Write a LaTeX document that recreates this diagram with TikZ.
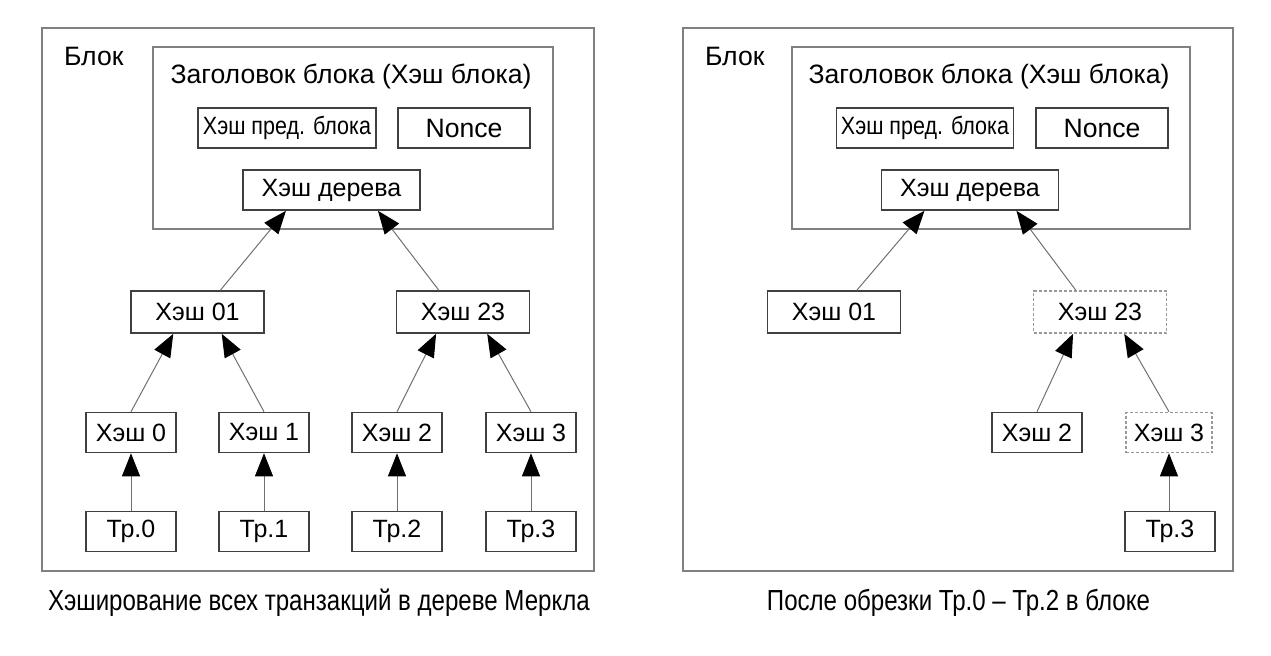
\documentclass[tikz,border=0pt]{standalone}
\usepackage{fontspec}
\setmainfont{Liberation Sans}
\newfontfamily\narrowfont[FakeStretch=0.86]{Liberation Sans}
\newfontfamily\captionfont[FakeStretch=0.83]{Liberation Sans}
\usetikzlibrary{arrows.meta,calc}
\definecolor{boxline}{HTML}{404040}
\definecolor{frameline}{HTML}{808080}
\definecolor{linkline}{HTML}{707070}

\begin{document}
\begin{tikzpicture}[
    x=0.5pt, y=-0.5pt,
    font=\fontsize{12.5}{15}\selectfont,
    frame/.style={draw=frameline, line width=0.9pt, inner sep=0pt},
    hashbox/.style={draw=boxline, line width=0.8pt, fill=white, inner sep=0pt, minimum height=20pt},
    pruned/.style={hashbox, draw=frameline!80, dash pattern=on 1.5pt off 1pt},
    title/.style={font=\fontsize{13.3}{16}\selectfont},
    caption/.style={font=\captionfont\fontsize{14.5}{17}\selectfont},
    arrow/.style={-{Triangle[length=11.5pt, width=9pt, color=black]}, draw=linkline, line width=0.5pt}
]
\useasboundingbox (0,0) rectangle (1271,655);

% left: all transactions hashed
\node[frame, minimum width=276pt, minimum height=271.5pt] (blockL) at (318,299.5) {};
\node[title, anchor=west] (labelL) at (57,56) {Блок};
\node[frame, minimum width=200pt, minimum height=91pt] (headerL) at (353,138) {};
\node[title] (titleL) at (351,76) {Заголовок блока (Хэш блока)};
\node[hashbox, minimum width=89pt] (prevL) at (287,128) {\narrowfont Хэш пред. блока};
\node[hashbox, title, minimum width=66pt] (nonceL) at (464,128) {Nonce};
\node[hashbox, minimum width=88.5pt] (treeL) at (331.5,190) {Хэш дерева};

\node[hashbox, minimum width=66.5pt, minimum height=21pt] (h01L) at (197.5,312) {Хэш 01};
\node[hashbox, minimum width=66.5pt, minimum height=21pt] (h23L) at (463,312) {Хэш 23};

\node[hashbox, minimum width=45pt] (h0L) at (131,432.5) {Хэш 0};
\node[hashbox, minimum width=45pt] (h1L) at (264,432.5) {Хэш 1};
\node[hashbox, minimum width=45pt] (h2L) at (397,432.5) {Хэш 2};
\node[hashbox, minimum width=45pt] (h3L) at (531,432.5) {Хэш 3};

\node[hashbox, minimum width=45pt] (tx0L) at (131,531.5) {Тр.0};
\node[hashbox, minimum width=45pt] (tx1L) at (264,531.5) {Тр.1};
\node[hashbox, minimum width=45pt] (tx2L) at (397,531.5) {Тр.2};
\node[hashbox, minimum width=45pt] (tx3L) at (531,531.5) {Тр.3};

\draw[arrow] (tx0L) -- (h0L);
\draw[arrow] (tx1L) -- (h1L);
\draw[arrow] (tx2L) -- (h2L);
\draw[arrow] (tx3L) -- (h3L);
\draw[arrow] (h0L.north) -- ($(h01L.south west)!0.32!(h01L.south east)$);
\draw[arrow] (h1L.north) -- ($(h01L.south west)!0.68!(h01L.south east)$);
\draw[arrow] (h2L.north) -- ($(h23L.south west)!0.3!(h23L.south east)$);
\draw[arrow] (h3L.north) -- ($(h23L.south west)!0.68!(h23L.south east)$);
\draw[arrow] ($(h01L.north west)!0.67!(h01L.north east)$) -- ($(treeL.south west)!0.245!(treeL.south east)$);
\draw[arrow] ($(h23L.north west)!0.32!(h23L.north east)$) -- ($(treeL.south west)!0.76!(treeL.south east)$);

\node[caption] (captionL) at (319,603) {Хэширование всех транзакций в дереве Меркла};

% right: after pruning
\node[frame, minimum width=275pt, minimum height=271.5pt] (blockR) at (958,299.5) {};
\node[title, anchor=west] (labelR) at (698,56) {Блок};
\node[frame, minimum width=199pt, minimum height=91pt] (headerR) at (991,138) {};
\node[title] (titleR) at (989,76) {Заголовок блока (Хэш блока)};
\node[hashbox, minimum width=88.5pt] (prevR) at (925,128) {\narrowfont Хэш пред. блока};
\node[hashbox, title, minimum width=66pt] (nonceR) at (1102,128) {Nonce};
\node[hashbox, minimum width=88.5pt] (treeR) at (970,190) {Хэш дерева};

\node[hashbox, minimum width=66.5pt, minimum height=21pt] (h01R) at (834,312) {Хэш 01};
\node[pruned, minimum width=66.5pt, minimum height=21pt] (h23R) at (1100,312) {Хэш 23};

\node[hashbox, minimum width=45pt] (h2R) at (1037,432.5) {Хэш 2};
\node[pruned, minimum width=43pt] (h3R) at (1169,432.5) {Хэш 3};
\node[hashbox, minimum width=45pt] (tx3R) at (1170,531.5) {Тр.3};

\draw[arrow] (tx3R.north -| h3R) -- (h3R);
\draw[arrow] (h2R.north) -- ($(h23R.south west)!0.3!(h23R.south east)$);
\draw[arrow] (h3R.north) -- ($(h23R.south west)!0.68!(h23R.south east)$);
\draw[arrow] ($(h01R.north west)!0.67!(h01R.north east)$) -- ($(treeR.south west)!0.245!(treeR.south east)$);
\draw[arrow] ($(h23R.north west)!0.32!(h23R.north east)$) -- ($(treeR.south west)!0.76!(treeR.south east)$);

\node[caption] (captionR) at (958.5,603) {После обрезки Тр.0 – Тр.2 в блоке};
\end{tikzpicture}
\end{document}
